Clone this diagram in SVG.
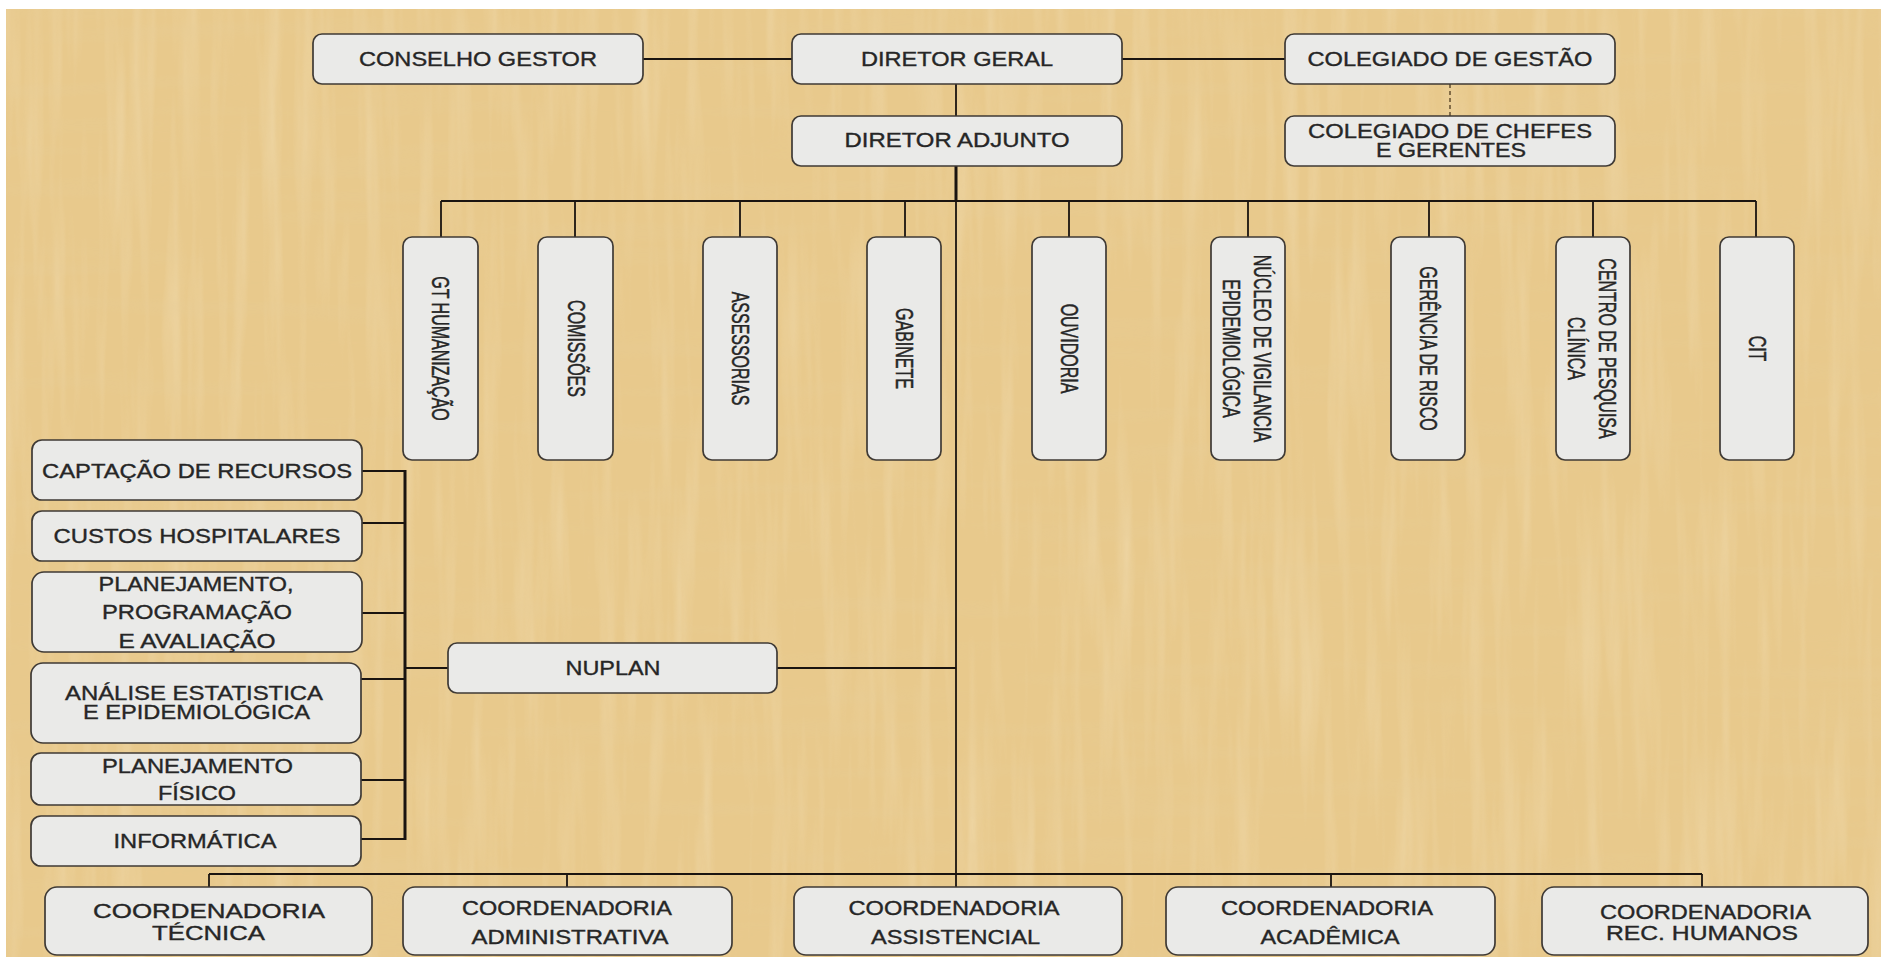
<svg xmlns="http://www.w3.org/2000/svg" width="1881" height="957" viewBox="0 0 1881 957">
<defs>
<style>
.bg{fill:#E8C98C}
.box{fill:#EAEAE8;stroke:#3f3a35;stroke-width:1.7}
.ln{stroke:#1a1410;stroke-width:1.8;fill:none}
.thk{stroke:#1a1410;stroke-width:3;fill:none}
.dash{stroke:#6a5535;stroke-width:1.6;stroke-dasharray:4 3;fill:none}
text{font-family:"Liberation Sans",Arial,sans-serif;fill:#262626;stroke:#262626;stroke-width:0.35}
.t{font-size:20px;text-anchor:middle}
.v{font-size:16px;text-anchor:middle}
</style>
<filter id="paper" x="0" y="0" width="100%" height="100%">
<feTurbulence type="fractalNoise" baseFrequency="0.06 0.004" numOctaves="3" seed="7" result="n"/>
<feColorMatrix in="n" type="matrix" values="0 0 0 0 0.98  0 0 0 0 0.92  0 0 0 0 0.76  1.2 0 0 0 -0.55" result="light"/>
<feTurbulence type="fractalNoise" baseFrequency="0.004 0.05" numOctaves="2" seed="11" result="m"/>
<feColorMatrix in="m" type="matrix" values="0 0 0 0 0.80  0 0 0 0 0.64  0 0 0 0 0.36  1.0 0 0 0 -0.5" result="dark"/>
<feMerge><feMergeNode in="light"/><feMergeNode in="dark"/></feMerge>
</filter>
</defs>
<rect x="0" y="0" width="1881" height="957" fill="#ffffff"/>
<rect class="bg" x="6" y="9" width="1875" height="948"/>
<rect x="6" y="9" width="1875" height="948" filter="url(#paper)" opacity="0.4"/>

<g id="connectors">
<line class="ln" x1="643" y1="59" x2="792" y2="59"/>
<line class="ln" x1="1122" y1="59" x2="1285" y2="59"/>
<line class="ln" x1="956" y1="84" x2="956" y2="116"/>
<line class="dash" x1="1450" y1="84" x2="1450" y2="116"/>
<line class="thk" x1="956" y1="166" x2="956" y2="201"/>
<line class="ln" x1="956" y1="201" x2="956" y2="874"/>
<line class="ln" x1="441" y1="201" x2="1756" y2="201"/>
<line class="ln" x1="441" y1="201" x2="441" y2="237"/>
<line class="ln" x1="575" y1="201" x2="575" y2="237"/>
<line class="ln" x1="740" y1="201" x2="740" y2="237"/>
<line class="ln" x1="905" y1="201" x2="905" y2="237"/>
<line class="ln" x1="1069" y1="201" x2="1069" y2="237"/>
<line class="ln" x1="1248" y1="201" x2="1248" y2="237"/>
<line class="ln" x1="1429" y1="201" x2="1429" y2="237"/>
<line class="ln" x1="1593" y1="201" x2="1593" y2="237"/>
<line class="ln" x1="1756" y1="201" x2="1756" y2="237"/>
<line class="ln" x1="777" y1="668" x2="956" y2="668"/>
<line class="ln" x1="405" y1="668" x2="448" y2="668"/>
<line class="thk" x1="405" y1="470" x2="405" y2="840"/>
<line class="ln" x1="362" y1="471" x2="405" y2="471"/>
<line class="ln" x1="360" y1="523" x2="405" y2="523"/>
<line class="ln" x1="362" y1="613" x2="405" y2="613"/>
<line class="ln" x1="360" y1="679" x2="405" y2="679"/>
<line class="ln" x1="361" y1="780" x2="405" y2="780"/>
<line class="ln" x1="361" y1="839" x2="405" y2="839"/>
<line class="ln" x1="209" y1="874" x2="1702" y2="874"/>
<line class="ln" x1="209" y1="874" x2="209" y2="887"/>
<line class="ln" x1="567" y1="874" x2="567" y2="887"/>
<line class="ln" x1="956" y1="874" x2="956" y2="887"/>
<line class="ln" x1="1331" y1="874" x2="1331" y2="887"/>
<line class="ln" x1="1702" y1="874" x2="1702" y2="887"/>
</g>

<g id="conselho-gestor"><rect class="box" x="313" y="34" width="330" height="50" rx="9"/><text class="t" x="478" y="66" textLength="238" lengthAdjust="spacingAndGlyphs">CONSELHO GESTOR</text></g>
<g id="diretor-geral"><rect class="box" x="792" y="34" width="330" height="50" rx="9"/><text class="t" x="957" y="66" textLength="192" lengthAdjust="spacingAndGlyphs">DIRETOR GERAL</text></g>
<g id="colegiado-gestao"><rect class="box" x="1285" y="34" width="330" height="50" rx="9"/><text class="t" x="1450" y="66" textLength="285" lengthAdjust="spacingAndGlyphs">COLEGIADO DE GESTÃO</text></g>
<g id="diretor-adjunto"><rect class="box" x="792" y="116" width="330" height="50" rx="9"/><text class="t" x="957" y="147" textLength="225" lengthAdjust="spacingAndGlyphs">DIRETOR ADJUNTO</text></g>
<g id="colegiado-chefes"><rect class="box" x="1285" y="116" width="330" height="50" rx="9"/><text class="t" x="1450" y="138" textLength="284" lengthAdjust="spacingAndGlyphs">COLEGIADO DE CHEFES</text><text class="t" x="1451" y="157" textLength="150" lengthAdjust="spacingAndGlyphs">E GERENTES</text></g>

<g id="gt-humanizacao"><rect class="box" x="403" y="237" width="75" height="223" rx="9"/><text class="v" transform="translate(440.5,348.5) scale(1.45,1) rotate(90)" x="0" y="5.75">GT HUMANIZAÇÃO</text></g>
<g id="comissoes"><rect class="box" x="538" y="237" width="75" height="223" rx="9"/><text class="v" transform="translate(576,348.5) scale(1.45,1) rotate(90)" x="0" y="5.75">COMISSÕES</text></g>
<g id="assessorias"><rect class="box" x="703" y="237" width="74" height="223" rx="9"/><text class="v" transform="translate(740,348.5) scale(1.45,1) rotate(90)" x="0" y="5.75">ASSESSORIAS</text></g>
<g id="gabinete"><rect class="box" x="867" y="237" width="74" height="223" rx="9"/><text class="v" transform="translate(904.5,348.5) scale(1.45,1) rotate(90)" x="0" y="5.75">GABINETE</text></g>
<g id="ouvidoria"><rect class="box" x="1032" y="237" width="74" height="223" rx="9"/><text class="v" transform="translate(1069,348.5) scale(1.45,1) rotate(90)" x="0" y="5.75">OUVIDORIA</text></g>
<g id="nucleo-vigilancia"><rect class="box" x="1211" y="237" width="74" height="223" rx="9"/><text class="v" transform="translate(1247,348.5) scale(1.45,1) rotate(90)" x="0" y="-5">NÚCLEO DE VIGILANCIA</text><text class="v" transform="translate(1247,348.5) scale(1.45,1) rotate(90)" x="0" y="16.5">EPIDEMIOLÓGICA</text></g>
<g id="gerencia-risco"><rect class="box" x="1391" y="237" width="74" height="223" rx="9"/><text class="v" transform="translate(1428,348.5) scale(1.45,1) rotate(90)" x="0" y="5.75">GERÊNCIA DE RISCO</text></g>
<g id="centro-pesquisa"><rect class="box" x="1556" y="237" width="74" height="223" rx="9"/><text class="v" transform="translate(1592,348.5) scale(1.45,1) rotate(90)" x="0" y="-5">CENTRO DE PESQUISA</text><text class="v" transform="translate(1592,348.5) scale(1.45,1) rotate(90)" x="0" y="16.5">CLÍNICA</text></g>
<g id="cit"><rect class="box" x="1720" y="237" width="74" height="223" rx="9"/><text class="v" transform="translate(1757,348.5) scale(1.45,1) rotate(90)" x="0" y="5.75">CIT</text></g>

<g id="captacao"><rect class="box" x="32" y="440" width="330" height="60" rx="10"/><text class="t" x="197" y="478" textLength="310" lengthAdjust="spacingAndGlyphs">CAPTAÇÃO DE RECURSOS</text></g>
<g id="custos"><rect class="box" x="32" y="511" width="330" height="50" rx="10"/><text class="t" x="197" y="543" textLength="287" lengthAdjust="spacingAndGlyphs">CUSTOS HOSPITALARES</text></g>
<g id="planejamento-programacao"><rect class="box" x="32" y="572" width="330" height="80" rx="12"/><text class="t" x="196" y="591" textLength="195" lengthAdjust="spacingAndGlyphs">PLANEJAMENTO,</text><text class="t" x="197" y="619" textLength="190" lengthAdjust="spacingAndGlyphs">PROGRAMAÇÃO</text><text class="t" x="197" y="648" textLength="157" lengthAdjust="spacingAndGlyphs">E AVALIAÇÃO</text></g>
<g id="analise"><rect class="box" x="31" y="663" width="330" height="80" rx="12"/><text class="t" x="194" y="700" textLength="258" lengthAdjust="spacingAndGlyphs">ANÁLISE ESTATISTICA</text><text class="t" x="196.5" y="719" textLength="227" lengthAdjust="spacingAndGlyphs">E EPIDEMIOLÓGICA</text></g>
<g id="planejamento-fisico"><rect class="box" x="31" y="753" width="330" height="52" rx="10"/><text class="t" x="197.5" y="773" textLength="191" lengthAdjust="spacingAndGlyphs">PLANEJAMENTO</text><text class="t" x="197" y="800" textLength="78" lengthAdjust="spacingAndGlyphs">FÍSICO</text></g>
<g id="informatica"><rect class="box" x="31" y="816" width="330" height="50" rx="10"/><text class="t" x="195" y="848" textLength="163" lengthAdjust="spacingAndGlyphs">INFORMÁTICA</text></g>

<g id="nuplan"><rect class="box" x="448" y="643" width="329" height="50" rx="9"/><text class="t" x="613" y="675" textLength="95" lengthAdjust="spacingAndGlyphs">NUPLAN</text></g>

<g id="coord-tecnica"><rect class="box" x="45" y="887" width="327" height="68" rx="12"/><text class="t" x="209" y="918" textLength="232" lengthAdjust="spacingAndGlyphs">COORDENADORIA</text><text class="t" x="208.5" y="940" textLength="113" lengthAdjust="spacingAndGlyphs">TÉCNICA</text></g>
<g id="coord-administrativa"><rect class="box" x="403" y="887" width="329" height="68" rx="12"/><text class="t" x="567" y="915" textLength="210" lengthAdjust="spacingAndGlyphs">COORDENADORIA</text><text class="t" x="570" y="944" textLength="197" lengthAdjust="spacingAndGlyphs">ADMINISTRATIVA</text></g>
<g id="coord-assistencial"><rect class="box" x="794" y="887" width="328" height="68" rx="12"/><text class="t" x="954" y="915" textLength="211" lengthAdjust="spacingAndGlyphs">COORDENADORIA</text><text class="t" x="955.5" y="944" textLength="169" lengthAdjust="spacingAndGlyphs">ASSISTENCIAL</text></g>
<g id="coord-academica"><rect class="box" x="1166" y="887" width="329" height="68" rx="12"/><text class="t" x="1327" y="915" textLength="212" lengthAdjust="spacingAndGlyphs">COORDENADORIA</text><text class="t" x="1330" y="944" textLength="139" lengthAdjust="spacingAndGlyphs">ACADÊMICA</text></g>
<g id="coord-rec-humanos"><rect class="box" x="1542" y="887" width="326" height="68" rx="12"/><text class="t" x="1705.5" y="919" textLength="211" lengthAdjust="spacingAndGlyphs">COORDENADORIA</text><text class="t" x="1702" y="940" textLength="192" lengthAdjust="spacingAndGlyphs">REC. HUMANOS</text></g>
</svg>
